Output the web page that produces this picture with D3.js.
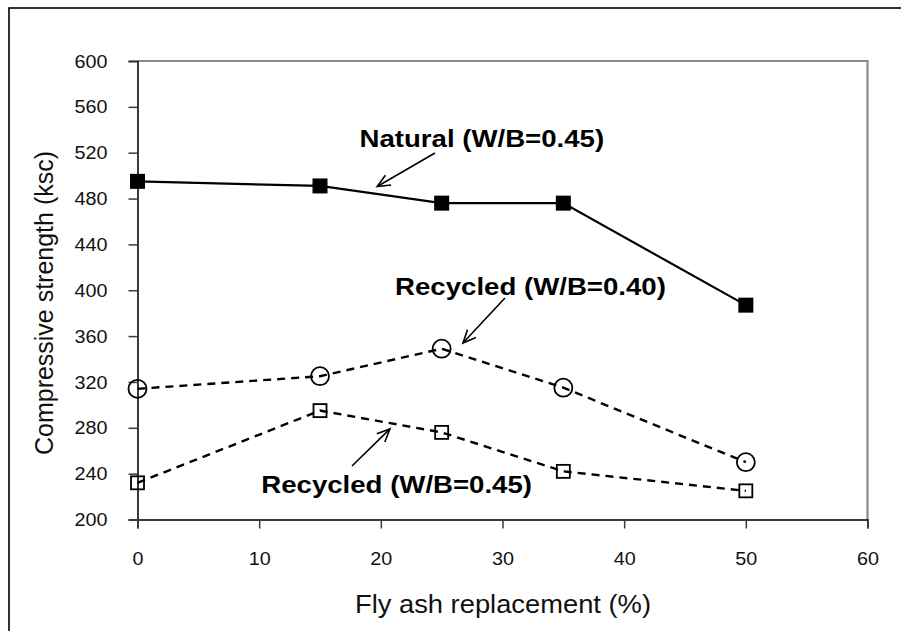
<!DOCTYPE html>
<html>
<head>
<meta charset="utf-8">
<script src="https://cdn.jsdelivr.net/npm/d3@7"></script>
<style>
  html, body { margin: 0; padding: 0; background: #fff; }
  svg { display: block; font-family: "Liberation Sans", Arial, sans-serif; }
</style>
</head>
<body>
<svg id="chart" width="901" height="631"></svg>
<script>
// Fly ash replacement levels (%)
const flyAsh = [0, 15, 25, 35, 50];

// Compressive strength (ksc) for each mix
const natural045 = [495, 491, 476, 476, 387];
const recycled040 = [314, 325, 349, 315, 250];
const recycled045 = [232, 295, 276, 242, 225];

// Axis ticks
const xTicks = [0, 10, 20, 30, 40, 50, 60];
const yTicks = [200, 240, 280, 320, 360, 400, 440, 480, 520, 560, 600];

const xTitle = "Fly ash replacement (%)";
const yTitle = "Compressive strength (ksc)";

// Callout labels, placed in data units
const callouts = [
  { text: "Natural (W/B=0.45)",  tx: 28.3, ty: 525, from: [24.45, 519.7], to: [19.7, 490.5] },
  { text: "Recycled (W/B=0.40)", tx: 32.3, ty: 396, from: [30.2, 393.2],  to: [26.75, 354.0] },
  { text: "Recycled (W/B=0.45)", tx: 21.3, ty: 223, from: [17.63, 246.7], to: [20.75, 279.0] }
];

const svg = d3.select("#chart");
const plot = { left: 137.5, right: 867.5, top: 61, bottom: 519.5 };

const x = d3.scaleLinear().domain([0, 60]).range([plot.left, plot.right]);
const y = d3.scaleLinear().domain([200, 600]).range([plot.bottom, plot.top]);

// Widen text horizontally, keeping its anchor
function widen(sel, k) {
  sel.each(function () {
    const len = this.getComputedTextLength();
    d3.select(this).attr("textLength", len * k).attr("lengthAdjust", "spacingAndGlyphs");
  });
}

// Outer frame
svg.append("rect")
  .attr("x", 9).attr("y", 8).attr("width", 1000).attr("height", 1000)
  .attr("fill", "none").attr("stroke", "#000").attr("stroke-width", 1.6);

// Plot frame: top and right edges
svg.append("path")
  .attr("d", `M${plot.left},${plot.top}H${plot.right}V${plot.bottom}`)
  .attr("fill", "none").attr("stroke", "#8a8a8a").attr("stroke-width", 2.2);

// Y axis
const yAxis = svg.append("g")
  .attr("transform", `translate(${plot.left},0)`)
  .call(d3.axisLeft(y).tickValues(yTicks).tickSize(9).tickPadding(21).tickFormat(d3.format("d")));
yAxis.select(".domain").attr("stroke", "#3a3a3a").attr("stroke-width", 2);
yAxis.selectAll(".tick line").attr("stroke", "#3a3a3a").attr("stroke-width", 1.5);
yAxis.selectAll(".tick text")
  .attr("fill", "#111").attr("font-size", 17.5).attr("dy", "0.35em")
  .style("font-family", "'Liberation Sans', Arial, sans-serif");
widen(yAxis.selectAll(".tick text"), 1.13);

// X axis
const xAxis = svg.append("g")
  .attr("transform", `translate(0,${plot.bottom})`)
  .call(d3.axisBottom(x).tickValues(xTicks).tickSize(9).tickPadding(24).tickFormat(d3.format("d")));
xAxis.select(".domain").attr("stroke", "#3a3a3a").attr("stroke-width", 2);
xAxis.selectAll(".tick line").attr("stroke", "#3a3a3a").attr("stroke-width", 1.5);
xAxis.selectAll(".tick text")
  .attr("fill", "#111").attr("font-size", 17.5)
  .style("font-family", "'Liberation Sans', Arial, sans-serif");
widen(xAxis.selectAll(".tick text"), 1.13);

// Axis titles
const xt = svg.append("text")
  .attr("x", 503).attr("y", 613)
  .attr("text-anchor", "middle").attr("font-size", 25).attr("fill", "#111")
  .text(xTitle)
  .attr("textLength", 296).attr("lengthAdjust", "spacingAndGlyphs");

const yt = svg.append("text")
  .attr("transform", "translate(53,303) rotate(-90)")
  .attr("text-anchor", "middle").attr("font-size", 25).attr("fill", "#111")
  .text(yTitle)
  .attr("textLength", 304).attr("lengthAdjust", "spacingAndGlyphs");

// Series
const line = d3.line().x(d => x(d[0])).y(d => y(d[1]));
const pts = vals => flyAsh.map((f, i) => [f, vals[i]]);

svg.append("path").datum(pts(natural045))
  .attr("d", line).attr("fill", "none").attr("stroke", "#000").attr("stroke-width", 2.2);

svg.append("path").datum(pts(recycled040))
  .attr("d", line).attr("fill", "none").attr("stroke", "#000").attr("stroke-width", 2.4)
  .attr("stroke-dasharray", "8,6");

svg.append("path").datum(pts(recycled045))
  .attr("d", line).attr("fill", "none").attr("stroke", "#000").attr("stroke-width", 2.4)
  .attr("stroke-dasharray", "8,6");

// Markers
svg.append("g").selectAll("rect").data(pts(natural045)).join("rect")
  .attr("x", d => x(d[0]) - 7.5).attr("y", d => y(d[1]) - 7.5)
  .attr("width", 15).attr("height", 15).attr("fill", "#000");

svg.append("g").selectAll("circle").data(pts(recycled040)).join("circle")
  .attr("cx", d => x(d[0])).attr("cy", d => y(d[1])).attr("r", 9)
  .attr("fill", "none").attr("stroke", "#000").attr("stroke-width", 1.8);

svg.append("g").selectAll("rect").data(pts(recycled045)).join("rect")
  .attr("x", d => x(d[0]) - 6.5).attr("y", d => y(d[1]) - 6.5)
  .attr("width", 13).attr("height", 13)
  .attr("fill", "none").attr("stroke", "#000").attr("stroke-width", 1.8);

// Callouts with open arrowheads
const cg = svg.append("g");
callouts.forEach(c => {
  const x1 = x(c.from[0]), y1 = y(c.from[1]);
  const x2 = x(c.to[0]), y2 = y(c.to[1]);
  const ang = Math.atan2(y2 - y1, x2 - x1);
  const head = 14, spread = 0.42;
  cg.append("line")
    .attr("x1", x1).attr("y1", y1).attr("x2", x2).attr("y2", y2)
    .attr("stroke", "#000").attr("stroke-width", 1.6);
  cg.append("path")
    .attr("d", `M${x2 - head * Math.cos(ang - spread)},${y2 - head * Math.sin(ang - spread)}` +
               `L${x2},${y2}` +
               `L${x2 - head * Math.cos(ang + spread)},${y2 - head * Math.sin(ang + spread)}`)
    .attr("fill", "none").attr("stroke", "#000").attr("stroke-width", 1.6);
  const t = cg.append("text")
    .attr("x", x(c.tx)).attr("y", y(c.ty))
    .attr("text-anchor", "middle").attr("font-size", 24).attr("font-weight", "bold")
    .attr("fill", "#000").text(c.text);
  widen(t, 1.15);
});
</script>
</body>
</html>
